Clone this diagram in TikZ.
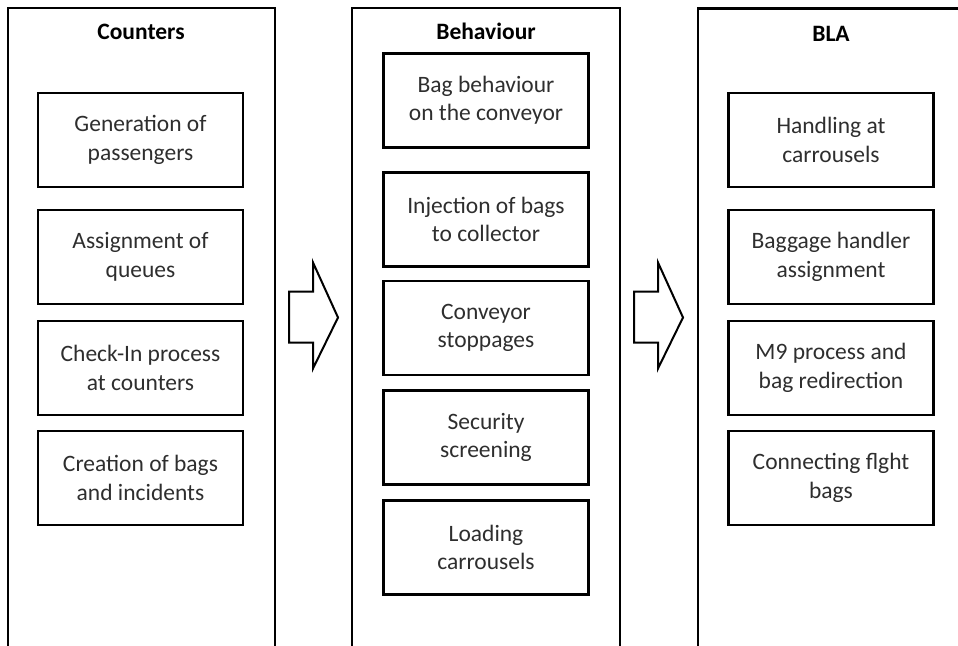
\documentclass[tikz,border=0pt]{standalone}
\usepackage{fontspec}
\setmainfont{Carlito}
\begin{document}
\begin{tikzpicture}[x=1pt,y=-1pt,
  panel/.style={draw=black, line width=2.4pt},
  item/.style={draw=black, line width=2.4pt, minimum width=205pt, minimum height=94pt,
    align=center, inner sep=0pt, text=black!82,
    font=\fontsize{23.5}{28.4}\selectfont},
  heading/.style={anchor=base, text=black, inner sep=0pt,
    font=\fontsize{23.5}{28}\selectfont\bfseries},
  blockarrow/.style={draw=black, line width=2pt, fill=white, line join=miter}]
\useasboundingbox (0,0) rectangle (958,645);
\clip (0,0) rectangle (958,645);

% three column frames, open at the bottom
\draw[panel] (8,660) -- (8,8) -- (275,8) -- (275,660);
\draw[panel] (352,660) -- (352,8) -- (620,8) -- (620,660);
\draw[panel] (698,660) -- (698,8.5) -- (990,8.5);

% column headings
\node[heading] (hC) at (141,39) {Counters};
\node[heading] (hB) at (486,39) {Behaviour};
\node[heading] (hL) at (831,41) {BLA};

% Counters column
\node[item] (c1) at (140.5,140) {Generation of\\passengers};
\node[item] (c2) at (140.5,257) {Assignment of\\queues};
\node[item] (c3) at (140.5,368) {Check-In process\\at counters};
\node[item] (c4) at (140.5,478) {Creation of bags\\and incidents};

% Behaviour column
\node[item] (b1) at (486,100.5) {Bag behaviour\\on the conveyor};
\node[item] (b2) at (486,219.5) {Injection of bags\\to collector};
\node[item] (b3) at (486,328) {Conveyor\\stoppages};
\node[item] (b4) at (486,437.5) {Security\\screening};
\node[item] (b5) at (486,547.5) {Loading\\carrousels};

% BLA column
\node[item] (l1) at (831,140) {Handling at\\carrousels};
\node[item] (l2) at (831,257) {Baggage handler\\assignment};
\node[item] (l3) at (831,368) {M9 process and\\bag redirection};
\node[item] (l4) at (831,478) {Connecting flght\\bags};

% block arrows between the columns
\coordinate (a1) at (289,317);
\coordinate (a2) at (634,317);
\foreach \a in {a1,a2}{
  \draw[blockarrow] (\a) ++(0,-25.5) -- ++(24,0) -- ++(0,-29) -- ++(25,55)
    -- ++(-25,51) -- ++(0,-26) -- ++(-24,0) -- cycle;
}
\end{tikzpicture}
\end{document}
